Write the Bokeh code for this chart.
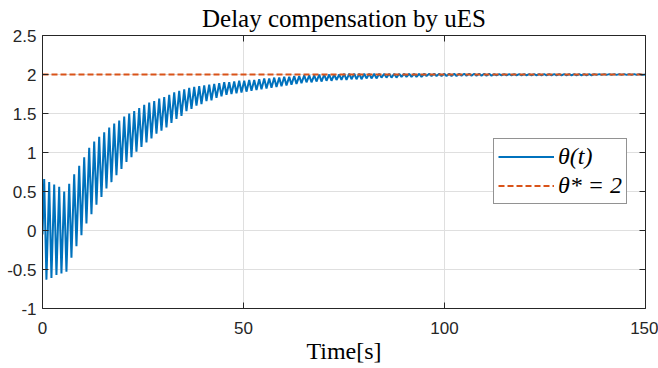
import numpy as np
from bokeh.plotting import figure
from bokeh.models import (LinearAxis, FixedTicker, Legend, LegendItem, Range1d,
                          CustomLabelingPolicy)
from bokeh.embed import file_html
from bokeh.resources import INLINE

# ---------------- data ----------------
title_text = "Delay compensation by uES"
x_label = "Time[s]"
x_ticks = [0, 50, 100, 150]
y_ticks = [-1, -0.5, 0, 0.5, 1, 1.5, 2, 2.5]
y_tick_labels = ["-1", "-0.5", "0", "0.5", "1", "1.5", "2", "2.5"]
legend_labels = ["θ(t)", "θ* = 2"]
theta_star = 2.0

t_start, theta_start = 0.0, -0.05      # first sample
t_first_peak = 0.42                    # time of first local maximum [s]
period = 1.244                         # oscillation period [s]
t_end, theta_end = 150.0, 2.0          # last sample

# local maxima of theta(t), one per oscillation cycle
peaks = [
    0.66, 0.62, 0.59, 0.56, 0.50, 0.60, 0.72, 0.83, 0.94, 1.06,
    1.14, 1.20, 1.26, 1.32, 1.37, 1.41, 1.46, 1.50, 1.53, 1.57,
    1.61, 1.64, 1.66, 1.69, 1.71, 1.74, 1.77, 1.79, 1.81, 1.83,
    1.84, 1.85, 1.86, 1.87, 1.88, 1.89, 1.90, 1.90, 1.91, 1.92,
    1.92, 1.93, 1.93, 1.94, 1.95, 1.95, 1.96, 1.96, 1.97, 1.97,
    1.98, 1.98, 1.99, 1.99, 1.99, 2.00, 2.00, 2.00, 2.00, 2.00,
    2.01, 2.01, 2.01, 2.01, 2.01, 2.01, 2.01, 2.01, 2.01, 2.01,
    2.01, 2.01, 2.01, 2.01, 2.01, 2.01, 2.01, 2.01, 2.01, 2.01,
    2.01, 2.01, 2.01, 2.01, 2.01, 2.01, 2.01, 2.01, 2.01, 2.01,
    2.005, 2.005, 2.005, 2.005, 2.005, 2.005, 2.005, 2.005, 2.005, 2.005,
    2.005, 2.005, 2.005, 2.005, 2.005, 2.005, 2.005, 2.005, 2.005, 2.005,
    2.005, 2.005, 2.005, 2.005, 2.005, 2.005, 2.005, 2.005, 2.005, 2.005,
]
# local minima following each maximum
troughs = [
    -0.63, -0.61, -0.57, -0.55, -0.53, -0.35, -0.20, -0.06, 0.09, 0.21,
    0.33, 0.43, 0.54, 0.62, 0.71, 0.79, 0.88, 0.94, 1.01, 1.07,
    1.13, 1.18, 1.24, 1.28, 1.32, 1.38, 1.43, 1.47, 1.53, 1.56,
    1.60, 1.62, 1.66, 1.67, 1.70, 1.72, 1.74, 1.75, 1.76, 1.77,
    1.78, 1.79, 1.80, 1.81, 1.82, 1.83, 1.84, 1.85, 1.86, 1.87,
    1.88, 1.89, 1.90, 1.90, 1.91, 1.91, 1.92, 1.92, 1.93, 1.93,
    1.93, 1.94, 1.94, 1.94, 1.95, 1.95, 1.95, 1.96, 1.96, 1.96,
    1.96, 1.97, 1.97, 1.97, 1.97, 1.97, 1.98, 1.98, 1.98, 1.98,
    1.98, 1.98, 1.98, 1.985, 1.985, 1.985, 1.985, 1.985, 1.985, 1.985,
    1.99, 1.99, 1.99, 1.99, 1.99, 1.99, 1.99, 1.99, 1.99, 1.99,
    1.99, 1.99, 1.99, 1.99, 1.99, 1.99, 1.99, 1.99, 1.99, 1.99,
    1.995, 1.995, 1.995, 1.995, 1.995, 1.995, 1.995, 1.995, 1.995, 1.995,
]

# assemble the series: start, then max/min alternating, then end
t_vals = [t_start]
theta_vals = [theta_start]
for k, (pk, tr) in enumerate(zip(peaks, troughs)):
    tp = t_first_peak + k * period
    tt = tp + 0.45 * period
    if tp > t_end:
        break
    t_vals.append(tp)
    theta_vals.append(pk)
    if tt > t_end:
        break
    t_vals.append(tt)
    theta_vals.append(tr)
t_vals.append(t_end)
theta_vals.append(theta_end)

# ---------------- styling ----------------
BLUE = "#0072BD"
RED = "#D95319"
AX = "#262626"
GRID = "#dfdfdf"
TICK_FONT = "Liberation Sans"
SERIF = "Liberation Serif"

p = figure(width=658, height=368,
           x_range=Range1d(x_ticks[0], x_ticks[-1]),
           y_range=Range1d(y_ticks[0], y_ticks[-1]),
           output_backend="svg", toolbar_location=None,
           min_border_left=42, min_border_right=13,
           min_border_top=35, min_border_bottom=60,
           x_axis_location="below", y_axis_location="left")
p.background_fill_color = "white"
p.border_fill_color = "white"
p.outline_line_color = None

# title
p.title.text = title_text
p.title.align = "center"
p.title.vertical_align = "top"
p.title.text_font = SERIF
p.title.text_font_size = "25px"
p.title.text_font_style = "normal"
p.title.text_color = "black"
p.title.standoff = 4

no_labels = CustomLabelingPolicy(code="""
    for (const i of indices) indices.unset(i)
    return indices
""")

def style_axis(ax, labels=True):
    ax.axis_line_color = AX
    ax.axis_line_width = 1
    ax.major_tick_line_color = AX
    ax.major_tick_in = 6
    ax.major_tick_out = 0
    ax.minor_tick_line_color = None
    if labels:
        ax.major_label_text_font = TICK_FONT
        ax.major_label_text_font_size = "17px"
        ax.major_label_text_color = AX
    else:
        ax.major_label_policy = no_labels
        ax.major_label_text_font_size = "0px"
        ax.major_label_standoff = 0

xa = p.xaxis[0]
ya = p.yaxis[0]
xa.ticker = FixedTicker(ticks=x_ticks)
ya.ticker = FixedTicker(ticks=y_ticks)
ya.major_label_overrides = {float(v): s for v, s in zip(y_ticks, y_tick_labels)}
style_axis(xa)
style_axis(ya)
xa.major_label_standoff = 13
ya.major_label_standoff = 6
xa.axis_label = x_label
xa.axis_label_text_font = SERIF
xa.axis_label_text_font_size = "24px"
xa.axis_label_text_font_style = "normal"
xa.axis_label_text_color = "black"
xa.axis_label_standoff = 1

xt = LinearAxis(ticker=FixedTicker(ticks=x_ticks))
yr = LinearAxis(ticker=FixedTicker(ticks=y_ticks))
style_axis(xt, labels=False)
style_axis(yr, labels=False)
p.add_layout(xt, "above")
p.add_layout(yr, "right")

p.xgrid.ticker = FixedTicker(ticks=x_ticks)
p.ygrid.ticker = FixedTicker(ticks=y_ticks)
p.grid.grid_line_color = GRID
p.grid.grid_line_width = 1

r_theta = p.line(t_vals, theta_vals, line_color=BLUE, line_width=2)
r_star = p.line([x_ticks[0], x_ticks[-1]], [theta_star, theta_star],
                line_color=RED, line_width=2, line_dash="6 3")

legend = Legend(items=[LegendItem(label=legend_labels[0], renderers=[r_theta]),
                       LegendItem(label=legend_labels[1], renderers=[r_star])],
                location=(451, 104))
legend.label_text_font = SERIF
legend.label_text_font_style = "italic"
legend.label_text_font_size = "24px"
legend.label_text_color = "black"
legend.glyph_width = 56
legend.glyph_height = 27
legend.label_height = 27
legend.label_standoff = 4
legend.padding = 4
legend.spacing = 2
legend.margin = 0
legend.border_line_color = AX
legend.border_line_width = 1
legend.background_fill_color = "white"
legend.background_fill_alpha = 1
p.add_layout(legend, "center")

open("out.html", "w").write(file_html(p, INLINE))
